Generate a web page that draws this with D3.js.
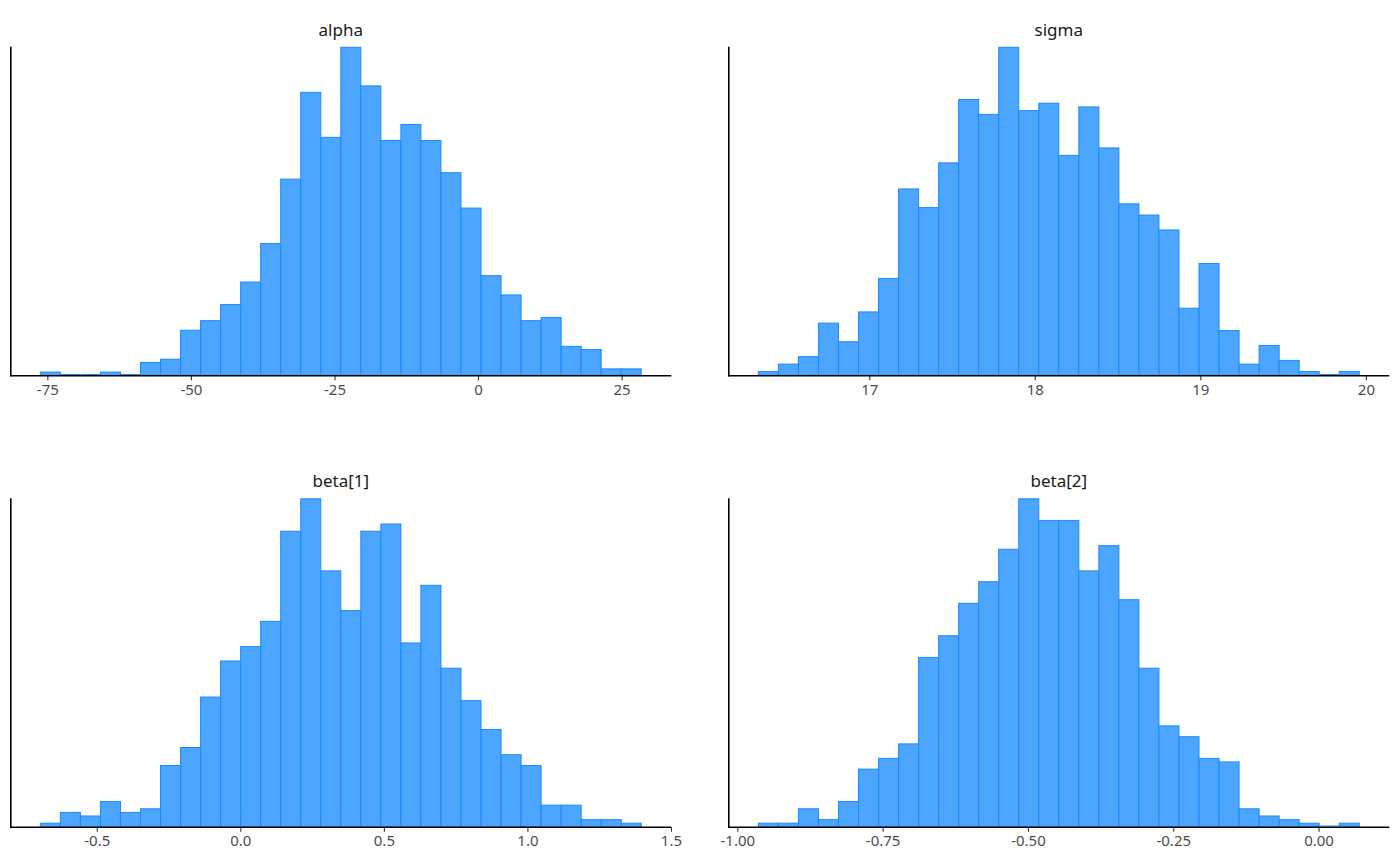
<!DOCTYPE html>
<html>
<head>
<meta charset="utf-8">
<script src="https://cdn.jsdelivr.net/npm/d3@7"></script>
<style>
  html, body { margin: 0; padding: 0; background: #ffffff; }
  svg { display: block; font-family: "Noto Sans", "Open Sans", sans-serif; }
</style>
</head>
<body>
<svg id="chart" width="1400" height="866"></svg>
<script>
// ---- data (counts per bin, 30 bins each, 1000 draws) ----
const parameters = ["alpha", "sigma", "beta[1]", "beta[2]"];

const alphaCounts = [1,0,0,1,0,4,5,14,17,22,29,41,61,88,74,102,90,73,78,73,63,52,31,25,17,18,9,8,2,2];
const alphaBinStart = -76.22;
const alphaBinWidth = 3.488;
const alphaTicks = [-75, -50, -25, 0, 25];
const alphaTickLabels = ["-75", "-50", "-25", "0", "25"];

const sigmaCounts = [1,3,5,14,9,17,26,50,45,57,74,70,88,71,73,59,72,61,46,43,39,18,30,12,3,8,4,1,0,1];
const sigmaBinStart = 16.33;
const sigmaBinWidth = 0.1210;
const sigmaTicks = [17, 18, 19, 20];
const sigmaTickLabels = ["17", "18", "19", "20"];

const beta1Counts = [1,4,3,7,4,5,17,22,36,46,50,57,82,91,71,60,82,84,51,67,44,35,27,20,17,6,6,2,2,1];
const beta1BinStart = -0.6966;
const beta1BinWidth = 0.06977;
const beta1Ticks = [-0.5, 0, 0.5, 1, 1.5];
const beta1TickLabels = ["-0.5", "0.0", "0.5", "1.0", "1.5"];

const beta2Counts = [1,1,5,2,7,16,19,23,47,53,62,68,77,91,85,85,71,78,63,44,28,25,19,18,5,3,2,1,0,1];
const beta2BinStart = -0.9638;
const beta2BinWidth = 0.03446;
const beta2Ticks = [-1, -0.75, -0.5, -0.25, 0];
const beta2TickLabels = ["-1.00", "-0.75", "-0.50", "-0.25", "0.00"];

const panelsData = [
  { name: parameters[0], counts: alphaCounts, start: alphaBinStart, width: alphaBinWidth, ticks: alphaTicks, labels: alphaTickLabels },
  { name: parameters[1], counts: sigmaCounts, start: sigmaBinStart, width: sigmaBinWidth, ticks: sigmaTicks, labels: sigmaTickLabels },
  { name: parameters[2], counts: beta1Counts, start: beta1BinStart, width: beta1BinWidth, ticks: beta1Ticks, labels: beta1TickLabels },
  { name: parameters[3], counts: beta2Counts, start: beta2BinStart, width: beta2BinWidth, ticks: beta2Ticks, labels: beta2TickLabels }
];

// ---- layout ----
const fillColor = "#4ca5ff";
const strokeColor = "#198bff";
const colX = [10.3, 728.3];
const panelW = 661;
const rowY = [47.3, 498.8];
const panelH = 328;

const svg = d3.select("#chart");

panelsData.forEach((p, idx) => {
  const col = idx % 2, row = Math.floor(idx / 2);
  const x0 = colX[col], y0 = rowY[row];
  const g = svg.append("g").attr("transform", `translate(${x0},${y0})`);

  const n = p.counts.length;
  const lo = p.start, hi = p.start + n * p.width;
  const pad = (hi - lo) * 0.05;
  const x = d3.scaleLinear().domain([lo - pad, hi + pad]).range([0, panelW]);
  const y = d3.scaleLinear().domain([0, d3.max(p.counts)]).range([panelH, 0]);

  const bins = p.counts.map((c, i) => ({ x0: p.start + i * p.width, x1: p.start + (i + 1) * p.width, c }));

  g.selectAll("rect.bar").data(bins.filter(d => d.c > 0)).enter().append("rect")
    .attr("class", "bar")
    .attr("x", d => x(d.x0))
    .attr("width", d => x(d.x1) - x(d.x0))
    .attr("y", d => y(d.c))
    .attr("height", d => y(0) - y(d.c))
    .attr("fill", fillColor)
    .attr("stroke", strokeColor)
    .attr("stroke-width", 1);

  // empty bins: ggplot still draws their outline as a flat line
  g.selectAll("line.empty").data(bins.filter(d => d.c === 0)).enter().append("line")
    .attr("class", "empty")
    .attr("x1", d => x(d.x0))
    .attr("x2", d => x(d.x1))
    .attr("y1", y(0) - 0.8)
    .attr("y2", y(0) - 0.8)
    .attr("stroke", strokeColor)
    .attr("stroke-width", 1);

  // x axis
  const xAxis = d3.axisBottom(x)
    .tickValues(p.ticks)
    .tickFormat((d, i) => p.labels[i])
    .tickSize(4.5)
    .tickPadding(4);
  const ax = g.append("g").attr("transform", `translate(0,${panelH + 0.5})`).call(xAxis);
  ax.select(".domain").remove();
  ax.selectAll(".tick line").attr("stroke", "#333333").attr("stroke-width", 1.1);
  ax.selectAll(".tick text")
    .attr("fill", "#4d4d4d")
    .style("font-size", "15px")
    .style("font-family", "'Noto Sans', 'Open Sans', sans-serif");

  // axis lines
  g.append("line")
    .attr("x1", 0).attr("x2", panelW)
    .attr("y1", panelH + 0.5).attr("y2", panelH + 0.5)
    .attr("stroke", "#000").attr("stroke-width", 1.6);
  g.append("line")
    .attr("x1", 0.5).attr("x2", 0.5)
    .attr("y1", -0.5).attr("y2", panelH + 1.3)
    .attr("stroke", "#000").attr("stroke-width", 1.6);

  // strip title
  g.append("text")
    .attr("x", panelW / 2)
    .attr("y", -11.5)
    .attr("text-anchor", "middle")
    .attr("fill", "#1a1a1a")
    .style("font-size", "17px")
    .text(p.name);
});
</script>
</body>
</html>
